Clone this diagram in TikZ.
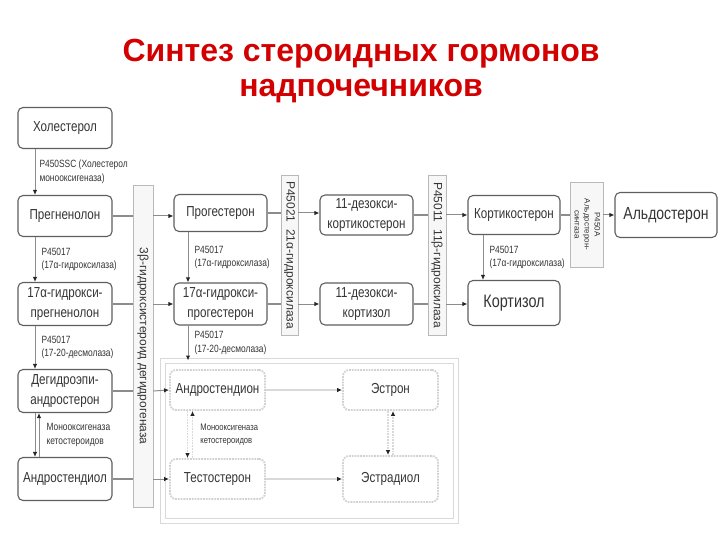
\documentclass[tikz,border=0pt]{standalone}
\usepackage{fontspec}
\usepackage{graphicx}
\newfontfamily\plainfont{Liberation Sans}
\newfontfamily\narrowfont[FakeStretch=0.8]{Liberation Sans}
\usetikzlibrary{positioning, arrows.meta, calc}

\definecolor{titlered}{HTML}{D20000}
\definecolor{edgegray}{HTML}{5E5E5E}
\definecolor{inkgray}{HTML}{353535}
\definecolor{linegray}{HTML}{8C8C8C}

\begin{document}
\begin{tikzpicture}[
    x=1pt, y=-1pt,
    box/.style={rectangle, rounded corners=5pt, draw=edgegray, line width=1.1pt, fill=white, minimum width=#1, minimum height=41pt, inner sep=2pt, align=center, text=inkgray, font=\narrowfont\fontsize{14.5pt}{20pt}\selectfont},
    box/.default=94pt,
    bar/.style={rectangle, draw=gray!55, fill=gray!6, line width=0.8pt, inner sep=0pt, text=inkgray, font=\plainfont\fontsize{12pt}{14pt}\selectfont},
    ghost/.style={rectangle, rounded corners=6pt, draw=gray!35, densely dotted, line width=1.8pt, minimum width=95pt, minimum height=40pt, align=center, text=inkgray, font=\narrowfont\fontsize{14.5pt}{20pt}\selectfont},
    frame/.style={rectangle, draw=gray!30, line width=1pt, double=white, double distance=3.5pt, inner sep=0pt},
    lbl/.style={inner sep=1pt, align=left, text=inkgray, font=\narrowfont\fontsize{10.5pt}{13.5pt}\selectfont},
    link/.style={draw=linegray, line width=1.2pt},
    arr/.style={-{Latex[length=5pt, width=4.5pt, color=black!85]}, draw=linegray, line width=1pt},
    farr/.style={arr, draw=gray!30, line width=1.8pt},
]
\useasboundingbox (0,0) rectangle (720,540);

\node[anchor=north, inner sep=0pt, align=center, text=titlered, font=\plainfont\bfseries\fontsize{32pt}{35pt}\selectfont] (title) at (361,39) {Синтез стероидных гормонов\\надпочечников};

% adrenal chain, left column
\node[box] (chol) at (65,128) {Холестерол};
\node[box] (preg) at (65,216) {Прегненолон};
\node[box, minimum height=43pt] (ohpreg) at (65,304) {17α-гидрокси-\\прегненолон};
\node[box, minimum height=43pt] (dhea) at (65,391) {Дегидроэпи-\\андростерон};
\node[box, minimum height=43pt] (adiol) at (65,479) {Андростендиол};

% enzyme bars
\node[bar, minimum width=20pt, minimum height=322pt] (b3) at (143,346) {\rotatebox{-90}{3β-гидроксистероид дегидрогеназа}};
\node[bar, minimum width=17pt, minimum height=160pt] (b21) at (289.5,255) {\rotatebox{-90}{P45021\ \ 21α-гидроксилаза}};
\node[bar, minimum width=18pt, minimum height=160pt] (b11) at (437,255) {\rotatebox{-90}{P45011\ \ 11β-гидроксилаза}};
\node[bar, minimum width=33pt, minimum height=85pt, font=\plainfont\fontsize{8pt}{10pt}\selectfont] (bAS) at (586.5,224.5) {\rotatebox{-90}{\begin{tabular}{@{}c@{}}P450A\\Альдостерон-\\синтаза\end{tabular}}};

% corticoids
\node[box=93pt, minimum height=37pt] (prog) at (220.5,213) {Прогестерон};
\node[box=93pt, minimum height=42pt] (ohprog) at (220.5,304) {17α-гидрокси-\\прогестерон};
\node[box=93pt, minimum height=40pt] (doc) at (366.5,215) {11-дезокси-\\кортикостерон};
\node[box=93pt, minimum height=42pt] (deoxy) at (366.5,304) {11-дезокси-\\кортизол};
\node[box=92pt, minimum height=39pt] (cort) at (514,215) {Кортикостерон};
\node[box=92pt, minimum height=45pt, font=\narrowfont\fontsize{18pt}{20pt}\selectfont] (cortisol) at (514,303) {Кортизол};
\node[box=102pt, minimum height=45pt, font=\narrowfont\fontsize{17.5pt}{20pt}\selectfont] (aldo) at (666,215) {Альдостерон};

% sex steroids
\node[frame, minimum width=293pt, minimum height=160pt] (ring) at (309.5,441) {};
\node[ghost] (adione) at (217.5,390) {Андростендион};
\node[ghost] (estrone) at (390.5,390) {Эстрон};
\node[ghost] (testo) at (217.5,479) {Тестостерон};
\node[ghost, minimum height=46pt] (estradiol) at (390.5,479) {Эстрадиол};

% vertical steps
\draw[arr] ([xshift=-30pt]chol.south) -- node[lbl, right=3pt] {P450SSC (Холестерол\\монооксигеназа)} ([xshift=-30pt]preg.north);
\draw[arr] ([xshift=-30pt]preg.south) -- node[lbl, right=5pt] {P45017\\(17α-гидроксилаза)} ([xshift=-30pt]ohpreg.north);
\draw[arr] ([xshift=-30pt]ohpreg.south) -- node[lbl, right=5pt] {P45017\\(17-20-десмолаза)} ([xshift=-30pt]dhea.north);
\draw[arr] ([xshift=-30pt]dhea.south) -- ([xshift=-30pt]adiol.north);
\draw[arr] ([xshift=-26pt]adiol.north) -- node[lbl, right=6pt] {Монооксигеназа\\кетостероидов} ([xshift=-26pt]dhea.south);
\draw[arr] ([xshift=-32.5pt]prog.south) -- node[lbl, right=5pt] {P45017\\(17α-гидроксилаза)} ([xshift=-32.5pt]ohprog.north);
\draw[arr] ([xshift=-32.5pt]ohprog.south) -- node[lbl, right=5pt] {P45017\\(17-20-десмолаза)} ([xshift=-32.5pt]ohprog.south |- ring.north);
\draw[arr] ([xshift=-31pt]cort.south) -- node[lbl, right=5pt] {P45017\\(17α-гидроксилаза)} ([xshift=-31pt]cortisol.north);

% through the bars
\draw[link] (preg.east) -- (b3.west |- preg.east);
\draw[arr] (b3.east |- preg.east) -- (prog.west |- preg.east);
\draw[link] (ohpreg.east) -- (b3.west |- ohpreg.east);
\draw[arr] (b3.east |- ohpreg.east) -- (ohprog.west |- ohpreg.east);
\draw[link] (dhea.east) -- (b3.west |- dhea.east);
\draw[arr] (b3.east |- dhea.east) -- (adione.west);
\draw[link] (adiol.east) -- (b3.west |- adiol.east);
\draw[arr] (b3.east |- adiol.east) -- (testo.west);
\draw[link] (prog.east) -- (b21.west |- prog.east);
\draw[arr] (b21.east |- prog.east) -- (doc.west |- prog.east);
\draw[link] (ohprog.east) -- (b21.west |- ohprog.east);
\draw[arr] (b21.east |- ohprog.east) -- (deoxy.west);
\draw[link] (doc.east) -- (b11.west |- doc.east);
\draw[arr] (b11.east |- doc.east) -- (cort.west);
\draw[link] (deoxy.east) -- (b11.west |- deoxy.east);
\draw[arr] (b11.east |- deoxy.east) -- (cortisol.west |- deoxy.east);
\draw[link] (cort.east) -- (bAS.west |- cort.east);
\draw[arr] (bAS.east |- cort.east) -- (aldo.west);

% inside the frame
\draw[farr] (adione) -- (estrone);
\draw[farr] (testo) -- (estradiol);
\draw[farr, densely dotted] ([xshift=-30pt]adione.south) -- ([xshift=-30pt]testo.north);
\draw[farr, densely dotted] ([xshift=-25pt]testo.north) -- node[lbl, right=6pt, font=\narrowfont\fontsize{9.5pt}{12.5pt}\selectfont] {Монооксигеназа\\кетостероидов} ([xshift=-25pt]adione.south);
\draw[farr, densely dotted] ([xshift=-2.5pt]estrone.south) -- ([xshift=-2.5pt]estradiol.north);
\draw[farr, densely dotted] ([xshift=2.5pt]estradiol.north) -- ([xshift=2.5pt]estrone.south);
\end{tikzpicture}
\end{document}
